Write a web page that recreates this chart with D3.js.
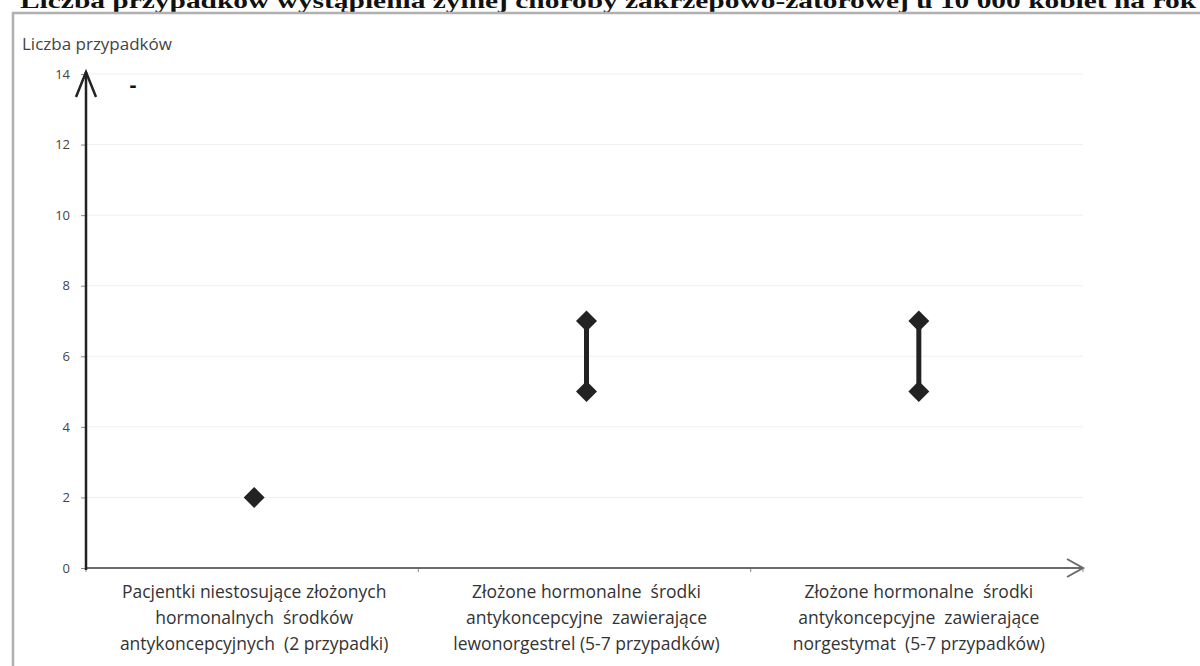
<!DOCTYPE html>
<html><head><meta charset="utf-8">
<script src="https://cdn.jsdelivr.net/npm/d3@7"></script>
<style>body{margin:0;background:#fff}svg{display:block}</style>
</head><body>
<svg id="c" width="1200" height="666"></svg>
<script>
const title = "Liczba przypadków wystąpienia żylnej choroby zakrzepowo-zatorowej u 10 000 kobiet na rok";
const yLabel = "Liczba przypadków";
const categories = [
  ["Pacjentki niestosujące złożonych", "hormonalnych  środków", "antykoncepcyjnych  (2 przypadki)"],
  ["Złożone hormonalne  środki", "antykoncepcyjne  zawierające", "lewonorgestrel (5-7 przypadków)"],
  ["Złożone hormonalne  środki", "antykoncepcyjne  zawierające", "norgestymat  (5-7 przypadków)"]
];
const lowValues = [2, 5, 5];
const highValues = [2, 7, 7];
const yTicks = [0, 2, 4, 6, 8, 10, 12, 14];

const svg = d3.select("#c");
const m = {l: 86, r: 1083, t: 74, b: 568};
const x = d3.scaleBand().domain(d3.range(categories.length)).range([m.l, m.r]);
const y = d3.scaleLinear().domain([0, 14]).range([m.b, m.t]);

// title (cropped at top in the reference)
svg.append("text").attr("x", 20).attr("y", 8)
  .attr("font-family", "Liberation Serif, Times New Roman, serif")
  .attr("font-weight", "bold").attr("font-size", 21).attr("fill", "#111")
  .attr("textLength", 1176).attr("lengthAdjust", "spacingAndGlyphs")
  .style("white-space", "pre")
  .text(title);

// frame
svg.append("path").attr("d", "M13,680 V13 H1210")
  .attr("fill", "none").attr("stroke", "#b0b0b0").attr("stroke-width", 2.5);

// gridlines
svg.append("g").selectAll("line").data(yTicks.filter(d => d > 0)).join("line")
  .attr("x1", m.l).attr("x2", m.r).attr("y1", d => y(d)).attr("y2", d => y(d))
  .attr("stroke", "#efefef").attr("stroke-width", 1);

// y axis
const ya = svg.append("g").attr("transform", `translate(${m.l},0)`)
  .call(d3.axisLeft(y).tickValues(yTicks).tickSize(5).tickPadding(11));
ya.select(".domain").remove();
ya.selectAll(".tick line").attr("stroke", "#888");
ya.selectAll(".tick text").attr("font-family", "Open Sans, sans-serif")
  .attr("font-size", 13).attr("fill", "#444");

// x axis ticks (category boundaries)
svg.append("g").selectAll("line").data(d3.range(categories.length + 1)).join("line")
  .attr("x1", d => m.l + d * x.step()).attr("x2", d => m.l + d * x.step())
  .attr("y1", m.b).attr("y2", m.b + 4).attr("stroke", "#888");

// axes lines
svg.append("line").attr("x1", m.l).attr("x2", m.r).attr("y1", m.b).attr("y2", m.b)
  .attr("stroke", "#6a6a6a").attr("stroke-width", 2);
svg.append("path").attr("d", `M${m.r-16},${m.b-9} L${m.r},${m.b} L${m.r-16},${m.b+9}`)
  .attr("fill", "none").attr("stroke", "#6a6a6a").attr("stroke-width", 2);
svg.append("line").attr("x1", m.l).attr("x2", m.l).attr("y1", m.b + 2).attr("y2", y(14) - 2)
  .attr("stroke", "#222").attr("stroke-width", 2.5);
svg.append("path").attr("d", `M${m.l-10},${y(14)+23} L${m.l},${y(14)-2} L${m.l+10},${y(14)+23}`)
  .attr("fill", "none").attr("stroke", "#222").attr("stroke-width", 2.5);

// stray dash
svg.append("text").attr("x", 133).attr("y", 92).attr("text-anchor", "middle")
  .attr("font-family", "DejaVu Sans, sans-serif").attr("font-weight", "bold")
  .attr("font-size", 18).attr("fill", "#111").text("-");

// y label
svg.append("text").attr("x", 22).attr("y", 50)
  .attr("font-family", "Open Sans, sans-serif").attr("font-size", 17).attr("fill", "#444")
  .text(yLabel);

// category labels
const cl = svg.append("g").selectAll("text").data(categories).join("text")
  .attr("text-anchor", "middle").attr("font-family", "Open Sans, sans-serif")
  .attr("font-size", 17.5).attr("fill", "#333").style("white-space", "pre");
cl.each(function(lines, i) {
  d3.select(this).selectAll("tspan").data(lines).join("tspan")
    .attr("x", x(i) + x.bandwidth() / 2 + 2).attr("y", (d, j) => 598 + j * 26).text(d => d);
});

// range lines
svg.append("g").selectAll("line").data(d3.range(categories.length)).join("line")
  .attr("x1", i => x(i) + x.bandwidth() / 2 + 2).attr("x2", i => x(i) + x.bandwidth() / 2 + 2)
  .attr("y1", i => y(lowValues[i])).attr("y2", i => y(highValues[i]))
  .attr("stroke", "#222").attr("stroke-width", 5);

// diamonds
const pts = [];
categories.forEach((c, i) => {
  pts.push({i, v: lowValues[i]});
  if (highValues[i] !== lowValues[i]) pts.push({i, v: highValues[i]});
});
const sym = d3.symbol().type(d3.symbolDiamond2).size(280);
svg.append("g").selectAll("path").data(pts).join("path")
  .attr("d", sym)
  .attr("transform", d => `translate(${x(d.i) + x.bandwidth()/2 + 2},${y(d.v)})`)
  .attr("fill", "#222");
</script>
</body></html>
